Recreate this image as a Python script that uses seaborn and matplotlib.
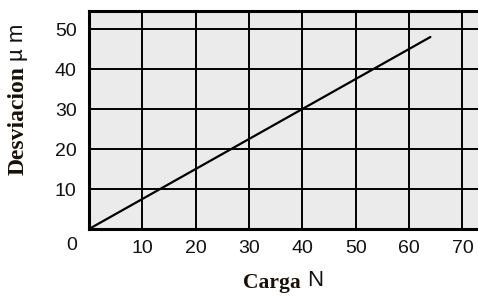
import matplotlib
matplotlib.use("Agg")
import matplotlib.pyplot as plt
import seaborn as sns
import pandas as pd

carga = [0, 64]
desviacion = [0, 48]
x_ticks = [10, 20, 30, 40, 50, 60, 70]
y_ticks = [10, 20, 30, 40, 50]
origin_label = "0"

sns.set_theme(style="white")
plt.rcParams['font.family'] = ['Liberation Sans', 'DejaVu Sans']

W, H = 478, 297
fig = plt.figure(figsize=(W / 100, H / 100), dpi=100)
ax = fig.add_axes([89 / W, 1 - 229 / H, (W - 89 + 2) / W, (229 - 11) / H])
ax.set_facecolor("#ebebeb")

df = pd.DataFrame({"Carga": carga, "Desviacion": desviacion})
sns.lineplot(data=df, x="Carga", y="Desviacion", ax=ax, color="black", lw=1.6)

ax.set_xlim(0, 73.3)
ax.set_ylim(0, 54.5)
ax.set_xticks(x_ticks)
ax.set_yticks(y_ticks)
ax.set_xticklabels([str(v) for v in x_ticks])
ax.set_yticklabels([str(v) for v in y_ticks])
ax.grid(True, color="black", lw=1.4)
ax.set_axisbelow(False)
ax.tick_params(axis="both", length=0, labelsize=14, colors="#111111")
ax.tick_params(axis="x", pad=8)
ax.tick_params(axis="y", pad=9)
for s in ["left", "bottom", "top"]:
    ax.spines[s].set_color("black")
    ax.spines[s].set_linewidth(2.2)
ax.spines["right"].set_visible(False)
ax.set_xlabel("")
ax.set_ylabel("")
ax.text(72 / W, 1 - 246 / H, origin_label, transform=fig.transFigure,
        ha="center", va="center", fontsize=14, color="#111111")

# Axis labels (bold serif word + sans unit)
fig.text(301 / W, 1 - 283 / H, "Carga", ha="right", va="center",
         fontsize=15.5, fontweight="bold", family=["Liberation Serif"], color="#1a1008")
fig.text(307 / W, 1 - 281 / H, "N", ha="left", va="center",
         fontsize=16, family=["Liberation Sans"], color="#111111")
fig.text(18 / W, 1 - 66 / H, "Desviacion", ha="center", va="top", rotation=90,
         fontsize=17, fontweight="bold", family=["Liberation Serif"], color="#1a1008")
fig.text(18 / W, 1 - 61 / H, "µ m", ha="center", va="bottom", rotation=90,
         fontsize=16, family=["Liberation Sans"], color="#111111")

fig.savefig("out.png", dpi=100)
